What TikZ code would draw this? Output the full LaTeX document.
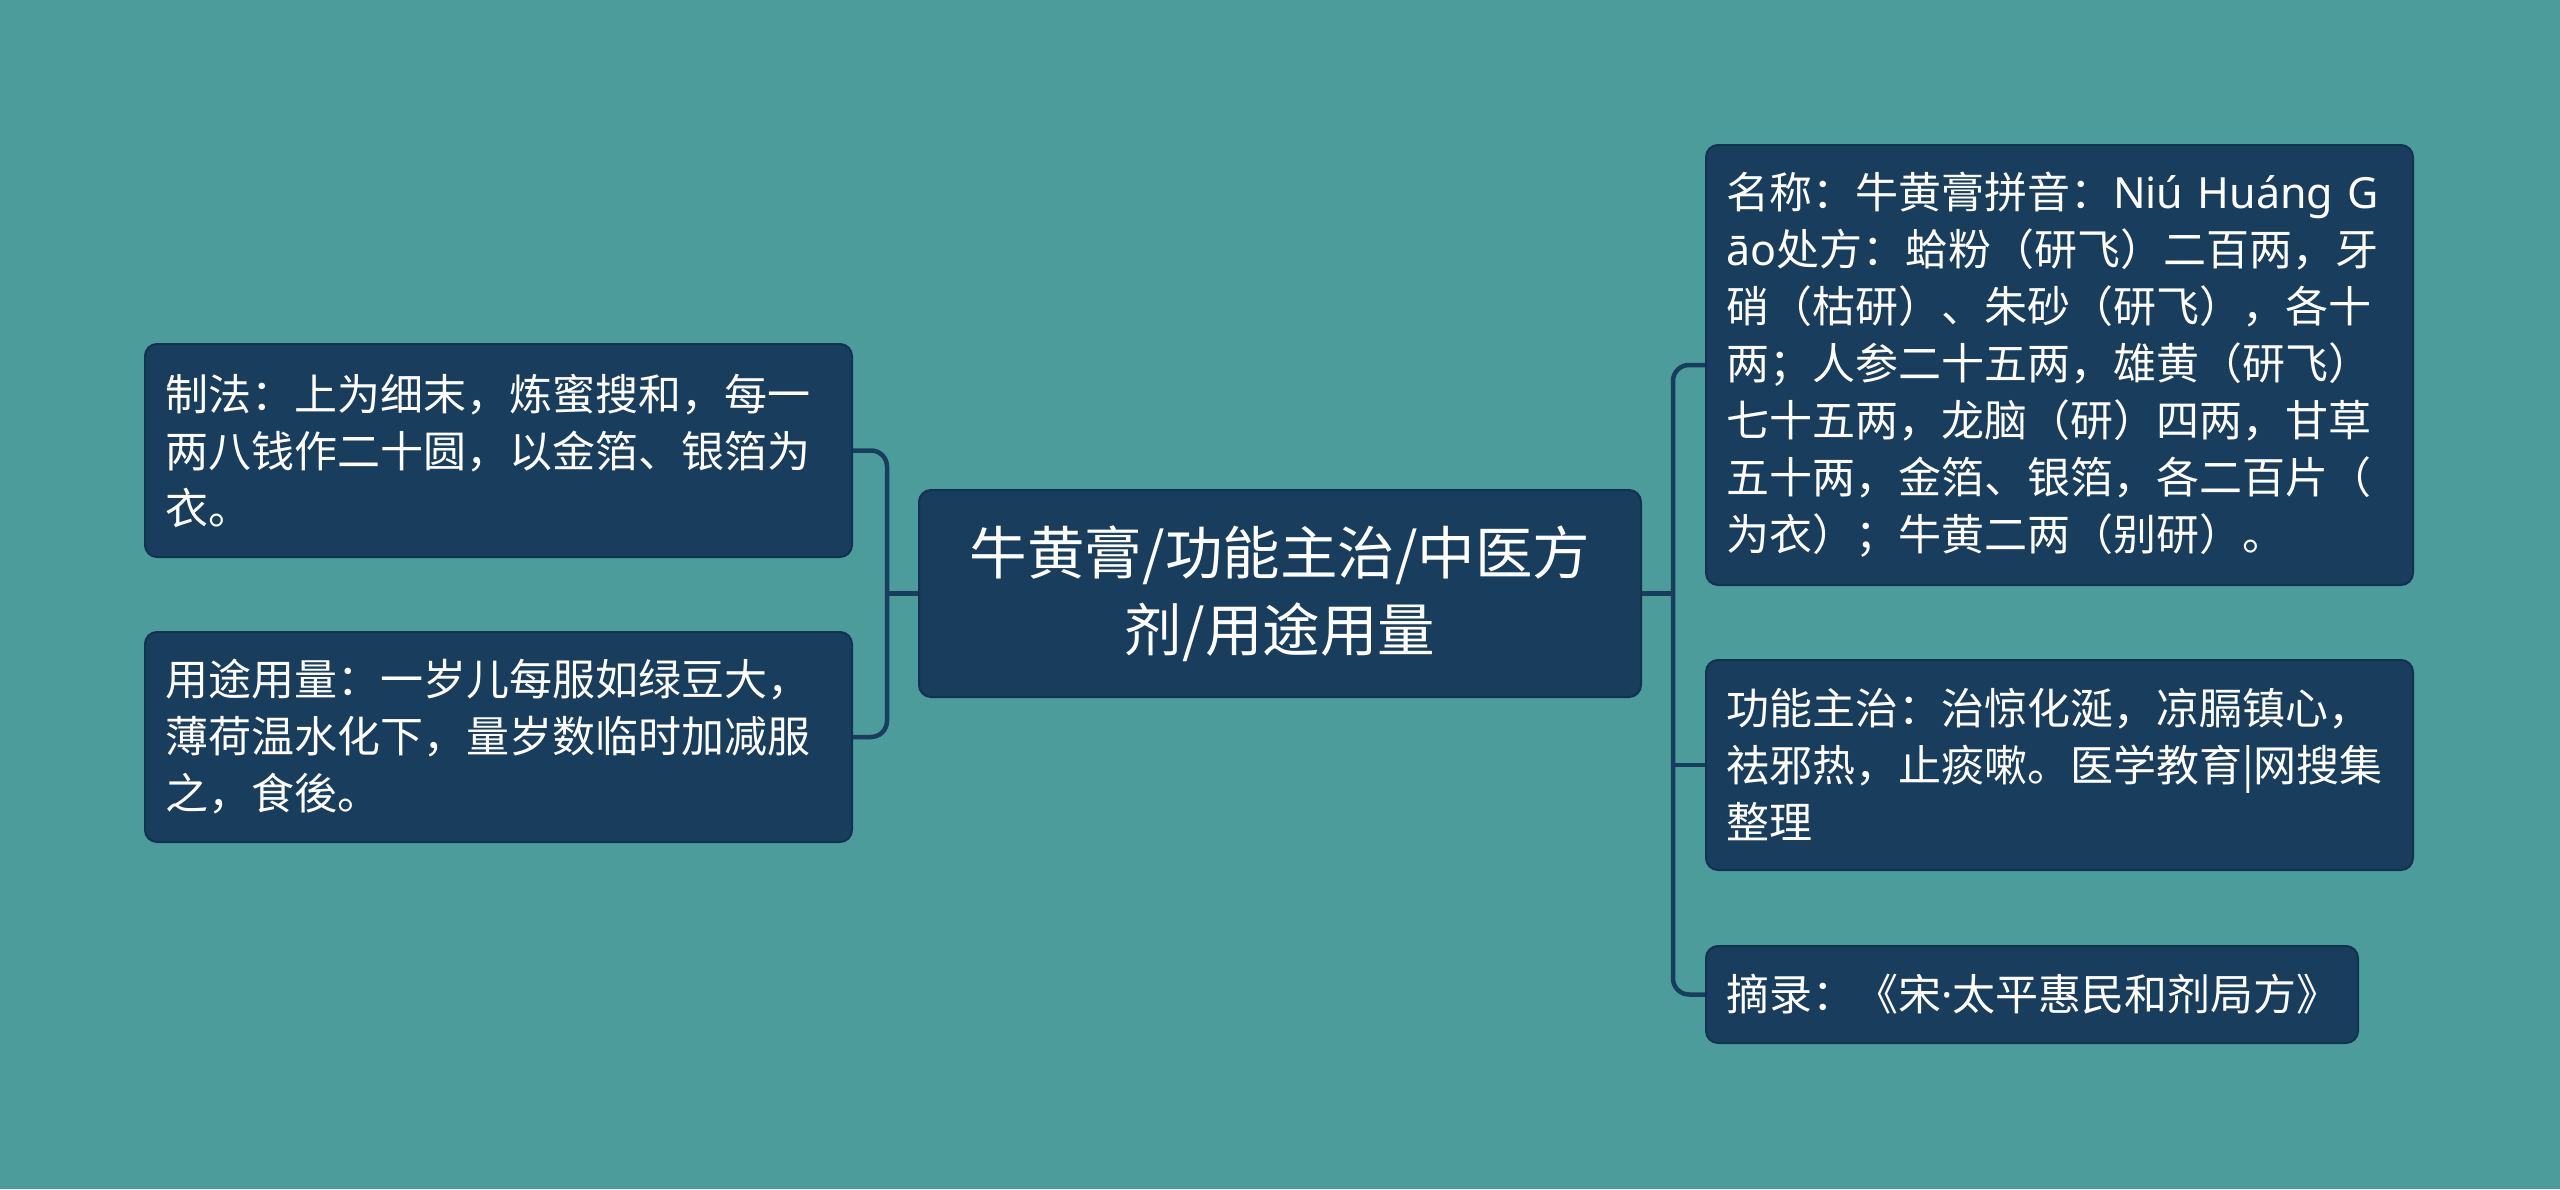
\documentclass[tikz,border=0pt]{standalone}
\usepackage{fontspec}
\setmainfont{Noto Sans CJK SC}
\newfontfamily\latinfont{Noto Sans}
\definecolor{bg}{HTML}{4D9C9C}
\definecolor{boxfill}{HTML}{183D5D}
\definecolor{boxline}{HTML}{12324D}
\begin{document}
\begin{tikzpicture}[x=1pt,y=-1pt,
  box/.style={draw=boxline, line width=2pt, fill=boxfill, rounded corners=12pt,
    text=white, inner xsep=20pt, inner ysep=0pt, align=left,
    font=\fontsize{43}{57}\selectfont},
  centerbox/.style={draw=boxline, line width=2pt, fill=boxfill, rounded corners=12pt,
    text=white, align=center, inner sep=0pt, font=\fontsize{57.5}{77}\selectfont},
  conn/.style={draw=boxfill, line width=4.5pt, rounded corners=16pt}]
\fill[bg] (0,0) rectangle (2560,1189);
\useasboundingbox (0,0) rectangle (2560,1189);

\node[centerbox, minimum width=722pt, minimum height=207pt] (c) at (1280,593.5)
  {牛黄膏/功能主治/中医方\\剂/用途用量};

\node[box, minimum width=707pt, minimum height=213pt, text width=667pt] (l1) at (498.5,450.5)
  {制法：上为细末，炼蜜搜和，每一\\两八钱作二十圆，以金箔、银箔为\\衣。};
\node[box, minimum width=707pt, minimum height=210pt, text width=667pt] (l2) at (498.5,737)
  {用途用量：一岁儿每服如绿豆大，\\薄荷温水化下，量岁数临时加减服\\之，食後。};

\node[box, minimum width=707pt, minimum height=440pt, text width=667pt] (r1) at (2059.5,365)
  {名称：牛黄膏拼音：{\latinfont Niú Huáng G}\\{\latinfont āo}处方：蛤粉（研飞）二百两，牙\\硝（枯研）、朱砂（研飞），各十\\两；人参二十五两，雄黄（研飞）\\七十五两，龙脑（研）四两，甘草\\五十两，金箔、银箔，各二百片（\\为衣）；牛黄二两（别研）。};
\node[box, minimum width=707pt, minimum height=210pt, text width=667pt] (r2) at (2059.5,765)
  {功能主治：治惊化涎，凉膈镇心，\\祛邪热，止痰嗽。医学教育|网搜集\\整理};
\node[box, minimum width=652pt, minimum height=97pt, text width=612pt] (r3) at (2032,994.5)
  {摘录：《宋{\latinfont ·}太平惠民和剂局方》};

\coordinate (jl) at (887,593.5);
\coordinate (jr) at (1673,593.5);

\draw[conn] (c.west) -- (jl);
\draw[conn] (l1.east) -- (l1.east -| jl) -- (l2.east -| jl) -- (l2.east);
\draw[conn] (c.east) -- (jr);
\draw[conn] (r1.west) -- (r1.west -| jr) -- (r3.west -| jr) -- (r3.west);
\draw[conn] (r2.west -| jr) -- (r2.west);
\end{tikzpicture}
\end{document}
